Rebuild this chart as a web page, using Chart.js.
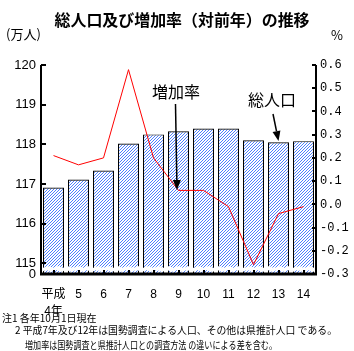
<!DOCTYPE html>
<html>
<head>
<meta charset="utf-8">
<script src="https://cdn.jsdelivr.net/npm/chart.js@4/dist/chart.umd.min.js"></script>
<style>
  body { margin: 0; background: #fff; }
  #chart { display: block; }
</style>
</head>
<body>
<canvas id="chart" width="354" height="351"></canvas>
<script>
const years = [['平成', '4年'], '5', '6', '7', '8', '9', '10', '11', '12', '13', '14'];
const population = [116.91, 117.11, 117.34, 118.02, 118.25, 118.33, 118.40, 118.40, 118.10, 118.05, 118.08];
const growthRate = [0.21, 0.17, 0.20, 0.58, 0.20, 0.06, 0.06, -0.01, -0.26, -0.04, -0.01];
const popTicks = [115, 116, 117, 118, 119, 120];
const rateTicks = [-0.3, -0.2, -0.1, 0.0, 0.1, 0.2, 0.3, 0.4, 0.5, 0.6];
const notes = [
    '注1 各年10月1日現在',
    '2 平成7年及び12年は国勢調査による人口、その他は県推計人口 である。',
    '増加率は国勢調査と県推計人口との調査方法 の違いによる差を含む。'
];

const popMin = 114.73; // broken axis, bottom shows "0"

// hatch fill for bars
function hatch() {
    const c = document.createElement('canvas');
    c.width = 3; c.height = 3;
    const g = c.getContext('2d');
    g.fillStyle = '#fff';
    g.fillRect(0, 0, 3, 3);
    g.fillStyle = '#4d7fff';
    g.fillRect(2, 0, 1, 1);
    g.fillRect(1, 1, 1, 1);
    g.fillRect(0, 2, 1, 1);
    return document.getElementById('chart').getContext('2d').createPattern(c, 'repeat');
}

function arrow(ctx, x1, y1, x2, y2) {
    const dx = x2 - x1, dy = y2 - y1;
    const len = Math.sqrt(dx * dx + dy * dy);
    const ux = dx / len, uy = dy / len;
    const bx = x2 - ux * 10, by = y2 - uy * 10;
    ctx.strokeStyle = '#000';
    ctx.lineWidth = 1.5;
    ctx.beginPath();
    ctx.moveTo(x1, y1);
    ctx.lineTo(bx, by);
    ctx.stroke();
    ctx.fillStyle = '#000';
    ctx.beginPath();
    ctx.moveTo(x2, y2);
    ctx.lineTo(bx - uy * 4, by + ux * 4);
    ctx.lineTo(bx + uy * 4, by - ux * 4);
    ctx.closePath();
    ctx.fill();
}

const decor = {
    id: 'decor',
    afterDatasetsDraw(chart) {
        const ctx = chart.ctx;
        const ca = chart.chartArea;
        // break mark near the bottom of the bars
        ctx.save();
        ctx.fillStyle = '#fff';
        ctx.beginPath();
        ctx.moveTo(ca.left + 1, 267);
        for (let x = ca.left + 1; x <= ca.right - 1; x += 1) {
            ctx.lineTo(x, 267 + Math.sin(x / 1.6) * 0.8);
        }
        for (let x = ca.right - 1; x >= ca.left + 1; x -= 1) {
            ctx.lineTo(x, 271 + Math.sin(x / 1.6 + 1) * 0.8);
        }
        ctx.closePath();
        ctx.fill();
        ctx.restore();
    },
    afterDraw(chart) {
        const ctx = chart.ctx;
        const ca = chart.chartArea;
        const ys = chart.scales.y, ys1 = chart.scales.y1, xs = chart.scales.x;
        ctx.save();
        ctx.strokeStyle = '#000';
        ctx.lineWidth = 2;
        ctx.beginPath();
        ctx.moveTo(ca.left, ca.top); ctx.lineTo(ca.left, ca.bottom);
        ctx.moveTo(ca.right, ca.top); ctx.lineTo(ca.right, ca.bottom);
        ctx.stroke();
        ctx.lineWidth = 3;
        ctx.beginPath();
        ctx.moveTo(ca.left - 1, ca.bottom); ctx.lineTo(ca.right + 1, ca.bottom);
        ctx.stroke();
        ctx.lineWidth = 2;
        ctx.beginPath();
        popTicks.forEach(v => {
            const y = Math.round(ys.getPixelForValue(v));
            ctx.moveTo(ca.left, y); ctx.lineTo(ca.left + 5, y);
        });
        rateTicks.forEach(v => {
            const y = Math.round(ys1.getPixelForValue(v));
            ctx.moveTo(ca.right - 4, y); ctx.lineTo(ca.right, y);
        });
        years.forEach((_, i) => {
            const x = Math.round(xs.getPixelForValue(i));
            ctx.moveTo(x, ca.bottom); ctx.lineTo(x, ca.bottom - 4);
        });
        ctx.stroke();

        // texts
        ctx.fillStyle = '#000';
        ctx.textBaseline = 'middle';
        ctx.textAlign = 'center';
        ctx.font = 'bold 16px "Noto Sans CJK JP"';
        ctx.fillText('総人口及び増加率（対前年）の推移', 182, 20, 255);
        ctx.textAlign = 'left';
        ctx.font = '13px "Noto Sans CJK JP"';
        ctx.fillText('(万人)', 6, 34, 40);
        ctx.fillText('%', 331, 35);
        ctx.font = '16px "Noto Sans CJK JP"';
        ctx.fillText('増加率', 152, 92, 48);
        ctx.fillText('総人口', 248, 100, 50);
        arrow(ctx, 175.5, 104, 177, 190);
        arrow(ctx, 273, 114, 278.5, 141);

        ctx.font = '10px "Noto Sans CJK JP"';
        ctx.fillText(notes[0], 2, 318, 98);
        ctx.fillText(notes[1], 15, 330, 322);
        ctx.fillText(notes[2], 25, 345, 252);
        ctx.restore();
    }
};

new Chart(document.getElementById('chart'), {
    type: 'bar',
    data: {
        labels: years,
        datasets: [
            {
                type: 'line',
                label: '増加率',
                data: growthRate,
                yAxisID: 'y1',
                borderColor: '#ff0000',
                borderWidth: 1,
                pointRadius: 0,
                tension: 0,
                order: 0
            },
            {
                label: '総人口',
                data: population,
                yAxisID: 'y',
                backgroundColor: hatch(),
                borderColor: '#000',
                borderWidth: 1.2,
                barPercentage: 0.84,
                categoryPercentage: 1,
                order: 1
            }
        ]
    },
    options: {
        responsive: false,
        animation: false,
        devicePixelRatio: 1,
        layout: { padding: { top: 65, left: 0, right: 0, bottom: 0 } },
        plugins: {
            legend: { display: false },
            tooltip: { enabled: false }
        },
        scales: {
            x: {
                grid: { display: false, drawTicks: false },
                border: { display: false },
                ticks: {
                    color: '#000',
                    padding: 12,
                    maxRotation: 0,
                    autoSkip: false,
                    font: { family: '"Liberation Sans", "Noto Sans CJK JP"', size: 12, lineHeight: 1.4 }
                },
                afterFit: s => { s.height = 77; }
            },
            y: {
                position: 'left',
                min: popMin,
                max: 120,
                grid: { display: false, drawTicks: false },
                border: { display: false },
                afterBuildTicks: s => {
                    s.ticks = [popMin].concat(popTicks).map(v => ({ value: v }));
                },
                ticks: {
                    color: '#000',
                    padding: 5,
                    autoSkip: false,
                    font: { family: '"Liberation Sans"', size: 13 },
                    callback: v => (v === popMin ? '0' : String(v))
                },
                afterFit: s => { s.width = 41; }
            },
            y1: {
                position: 'right',
                min: -0.3,
                max: 0.6,
                grid: { display: false, drawTicks: false },
                border: { display: false },
                afterBuildTicks: s => {
                    s.ticks = rateTicks.map(v => ({ value: v }));
                },
                ticks: {
                    color: '#000',
                    padding: 4,
                    autoSkip: false,
                    font: { family: '"Liberation Mono"', size: 12 },
                    callback: v => (Math.round(v * 10) / 10).toFixed(1)
                },
                afterFit: s => { s.width = 38; }
            }
        }
    },
    plugins: [decor]
});
</script>
</body>
</html>
